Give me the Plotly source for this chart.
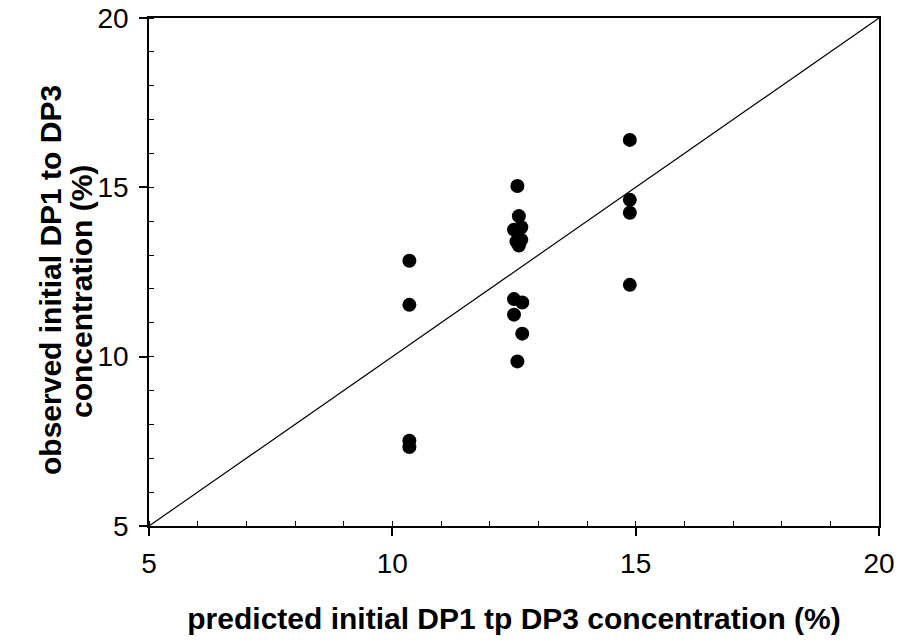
import plotly.graph_objects as go

# predicted (x) vs observed (y) initial DP1-DP3 concentration (%)
predicted = [10.35, 10.35, 10.35, 10.35,
             12.57, 12.6, 12.5, 12.65, 12.55, 12.65, 12.6,
             12.5, 12.67, 12.5, 12.67, 12.57,
             14.88, 14.88, 14.88, 14.88]
observed = [12.83, 11.53, 7.52, 7.33,
            15.04, 14.15, 13.75, 13.82, 13.4, 13.45, 13.28,
            11.7, 11.6, 11.24, 10.68, 9.86,
            16.4, 14.63, 14.25, 12.12]
line_x = [5, 20]
line_y = [5, 20]
ticks = [5, 10, 15, 20]
y_title_lines = ["observed initial DP1 to DP3", "concentration (%)"]

font = "Liberation Sans, Arial, sans-serif"

fig = go.Figure()
fig.add_trace(go.Scatter(x=line_x, y=line_y, mode="lines",
                         line=dict(color="black", width=1.2),
                         showlegend=False, hoverinfo="skip"))
fig.add_trace(go.Scatter(x=predicted, y=observed, mode="markers",
                         marker=dict(color="black", size=14),
                         showlegend=False))

axis_common = dict(
    range=[5, 20], tickvals=ticks, ticks="outside", ticklen=8,
    tickwidth=1.5, tickcolor="black", showline=True, linecolor="black",
    linewidth=1.5, mirror=True, showgrid=False, zeroline=False,
    automargin=False, ticklabeloverflow="allow",
    tickfont=dict(family=font, size=28, color="black"),
    minor=dict(dtick=1, ticks="inside", ticklen=5, tickcolor="black",
               tickwidth=1, showgrid=False),
)

W, H = 898, 640
L, R, T, B = 149, 19, 18, 114
plot_w = W - L - R
plot_h = H - T - B

fig.update_layout(
    width=W, height=H,
    margin=dict(l=L, r=R, t=T, b=B),
    plot_bgcolor="white", paper_bgcolor="white",
    xaxis=dict(**axis_common, ticklabelstandoff=4,
               title=dict(text="<b>predicted initial DP1 tp DP3 concentration (%)</b>",
                          font=dict(family=font, size=30, color="black"),
                          standoff=30)),
    yaxis=dict(**axis_common, ticklabelstandoff=5),
)

for line_text, px, dy in zip(y_title_lines, [50, 82], [8, 20]):
    fig.add_annotation(text="<b>" + line_text + "</b>", textangle=-90,
                       xref="paper", yref="paper", x=(px - L) / plot_w,
                       y=0.5 - dy / plot_h,
                       xanchor="center", yanchor="middle", showarrow=False,
                       font=dict(family=font, size=30, color="black"))

fig.write_html("out.html",
               config={"displayModeBar": False},
               post_script="document.body.style.margin='0';"
                           "document.body.style.overflow='hidden';")
